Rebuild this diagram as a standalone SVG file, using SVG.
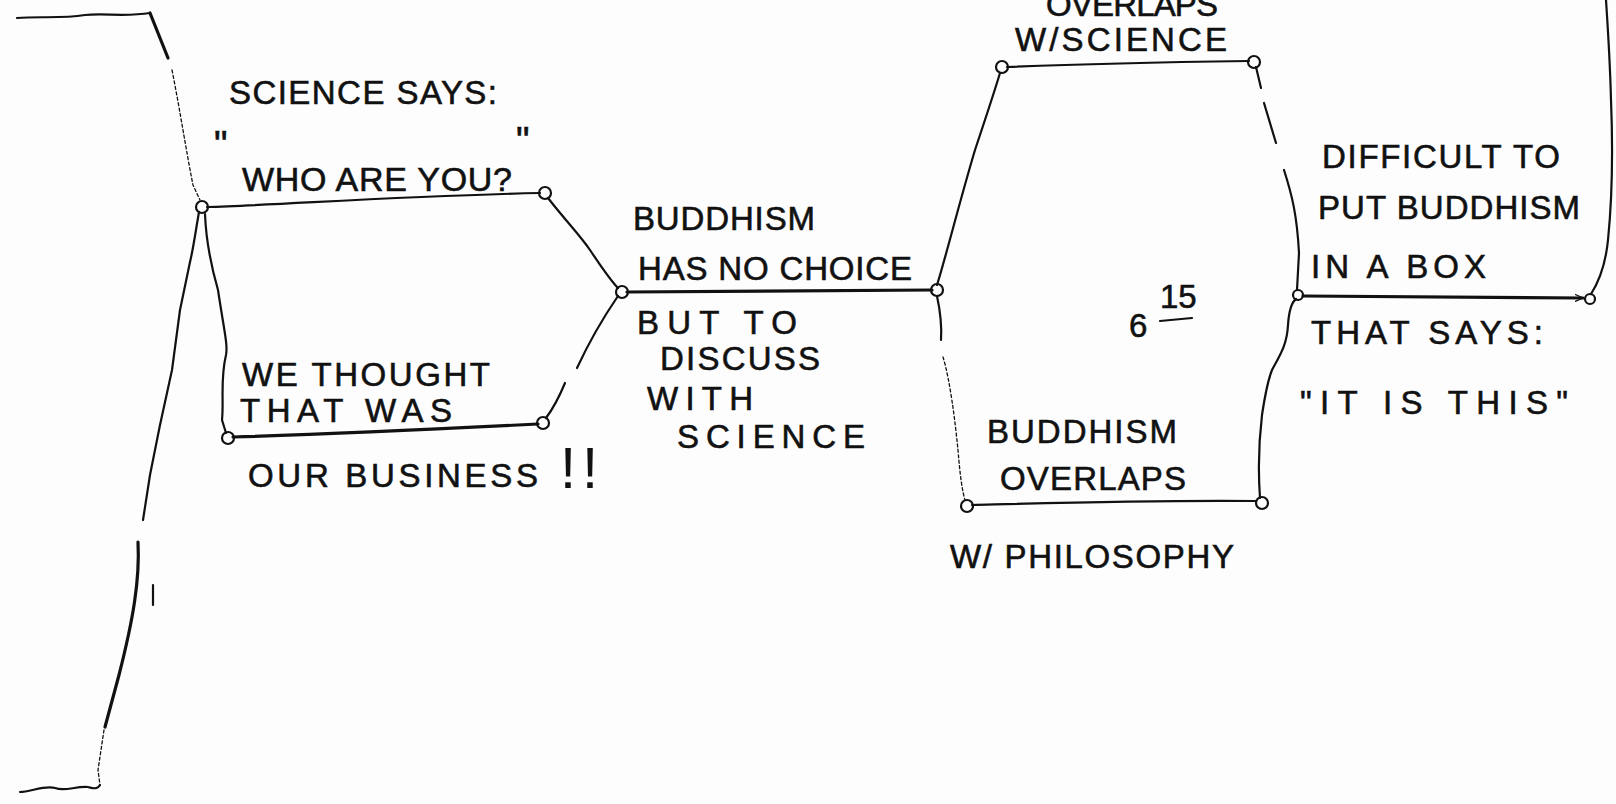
<svg xmlns="http://www.w3.org/2000/svg" width="1616" height="804" viewBox="0 0 1616 804">
<style>
.bg{fill:#fdfdfd}
.c{fill:none;stroke:#111;stroke-width:2.2;stroke-linecap:round;stroke-linejoin:round}
.thick{stroke-width:3.2}
.faint{stroke-width:1.3;stroke-dasharray:3 2.5}
.n{fill:none;stroke:#111;stroke-width:2.2}
.t{font-family:"Liberation Sans","DejaVu Sans",sans-serif;font-size:33px;fill:#111;stroke:#111;stroke-width:0.6}
</style>
<defs>
<marker id="tri" viewBox="0 0 10 10" refX="9" refY="5" markerWidth="9" markerHeight="9" markerUnits="userSpaceOnUse" orient="auto">
<path d="M0,1 L9,5 L0,9" fill="none" stroke="#111" stroke-width="1.5"/>
</marker>
</defs>
<rect class="bg" x="0" y="0" width="1616" height="804"/>

<g id="connectors">
<path class="c" d="M17,18 C40,16 60,19 85,15 C105,13 125,17 150,13"/>
<path class="c thick" d="M150,13 L168,58"/>
<path class="c faint" d="M172,70 C180,110 186,150 193,185 L200,200"/>
<path class="c" d="M199,212 C195,235 193,250 190,262 L180,310 L172,370 L160,425 L150,475 L143,520"/>
<path class="c thick" d="M138,542 C140,580 133,620 119,675 L105,727"/>
<path class="c faint" d="M104,730 L98,770 L100,785"/>
<path class="c" d="M100,785 C97,790 92,788 88,787 C75,786 65,792 55,788 C45,785 30,792 20,792"/>
<path class="c" stroke-width="1" d="M153,585 L153,605"/>
<path class="c" d="M207,207 C280,205 400,196 540,193"/>
<path class="c" d="M205,214 C206,240 210,262 218,290 C224,330 228,345 226,355 C220,380 224,400 222,420 L226,433"/>
<path class="c thick" d="M233,437 C300,435 420,430 538,424"/>
<path class="c" d="M548,198 C565,220 580,235 590,250 C600,265 610,280 618,288"/>
<path class="c" d="M618,296 C605,315 590,340 577,368 M565,383 C560,395 552,410 546,418"/>
<path class="c thick" d="M627,292 L932,290"/>
<path class="c" d="M937,285 C945,260 960,200 975,150 C985,120 995,90 1000,73"/>
<path class="c" d="M1007,67 C1080,64 1180,62 1249,61"/>
<path class="c" d="M937,296 C940,310 942,325 941,340"/>
<path class="c faint" d="M943,357 C950,380 955,420 958,450 C960,475 962,490 965,500"/>
<path class="c" d="M972,505 C1050,503 1150,500 1256,501"/>
<path class="c" d="M1256,67 L1261,88 M1264,103 L1276,143 M1284,170 C1292,195 1297,215 1299,253 L1297,290"/>
<path class="c" d="M1260,498 C1258,470 1259,440 1262,415 C1265,395 1268,380 1272,370 C1280,355 1287,345 1288,325 C1289,310 1292,302 1296,299"/>
<path class="c thick" d="M1303,296 L1583,298" marker-end="url(#tri)"/>
<path class="c" d="M1591,294 C1600,280 1606,260 1608,240 C1612,200 1613,150 1611,100 C1610,60 1608,30 1606,0"/>
<path class="c" d="M1160,321 L1192,318"/>
</g>

<g id="node-a"><circle class="n" cx="202" cy="207" r="6"/></g>
<g id="node-b"><circle class="n" cx="545" cy="193" r="6"/></g>
<g id="node-c"><circle class="n" cx="228" cy="438" r="6"/></g>
<g id="node-d"><circle class="n" cx="543" cy="423" r="6"/></g>
<g id="node-e"><circle class="n" cx="622" cy="292" r="6"/></g>
<g id="node-f"><circle class="n" cx="937" cy="290" r="6"/></g>
<g id="node-g"><circle class="n" cx="1002" cy="67" r="6"/></g>
<g id="node-h"><circle class="n" cx="1254" cy="62" r="6"/></g>
<g id="node-i"><circle class="n" cx="967" cy="506" r="6"/></g>
<g id="node-j"><circle class="n" cx="1262" cy="503" r="6"/></g>
<g id="node-k"><circle class="n" cx="1298" cy="295" r="5"/></g>
<g id="node-l"><circle class="n" cx="1590" cy="299" r="5"/></g>

<g id="label-science-says">
<text class="t" x="229" y="104" textLength="268">SCIENCE SAYS:</text>
<text class="t"><tspan x="214" y="158" font-size="38">"</tspan><tspan x="242" y="191" font-size="34" textLength="270" lengthAdjust="spacing">WHO ARE YOU?</tspan><tspan x="516" y="154" font-size="38">"</tspan></text>
</g>
<g id="label-our-business">
<text class="t" x="242" y="386" textLength="248">WE THOUGHT</text>
<text class="t" x="240" y="422" textLength="212">THAT WAS</text>
<text class="t"><tspan x="248" y="487" textLength="290" lengthAdjust="spacing">OUR BUSINESS</tspan><tspan x="560" y="488" font-size="58" stroke-width="0" letter-spacing="6">!!</tspan></text>
</g>
<g id="label-no-choice">
<text class="t" x="633" y="230" textLength="182">BUDDHISM</text>
<text class="t" x="638" y="280" textLength="274">HAS NO CHOICE</text>
<text class="t" x="637" y="334" font-size="32" textLength="160">BUT TO</text>
<text class="t" x="660" y="370" font-size="28" textLength="160">DISCUSS</text>
<text class="t" x="647" y="410" font-size="31" textLength="106">WITH</text>
<text class="t" x="677" y="448" textLength="188">SCIENCE</text>
</g>
<g id="label-overlaps-science">
<text class="t" x="1046" y="16" textLength="172">OVERLAPS</text>
<text class="t" x="1015" y="51" textLength="212">W/SCIENCE</text>
</g>
<g id="label-overlaps-philosophy">
<text class="t" x="987" y="443" textLength="190">BUDDHISM</text>
<text class="t" x="1000" y="490" textLength="186">OVERLAPS</text>
<text class="t" x="950" y="568" textLength="284">W/ PHILOSOPHY</text>
</g>
<g id="label-box">
<text class="t" x="1322" y="168" textLength="238">DIFFICULT TO</text>
<text class="t" x="1318" y="219" textLength="262">PUT BUDDHISM</text>
<text class="t" x="1311" y="278" textLength="175">IN A BOX</text>
<text class="t" x="1311" y="344" textLength="232">THAT SAYS:</text>
<text class="t" x="1300" y="414" textLength="268">"IT IS THIS"</text>
</g>
<g id="label-time">
<text class="t" x="1129" y="337" font-size="36">6</text>
<text class="t" x="1160" y="308" font-size="25">15</text>
</g>
</svg>
